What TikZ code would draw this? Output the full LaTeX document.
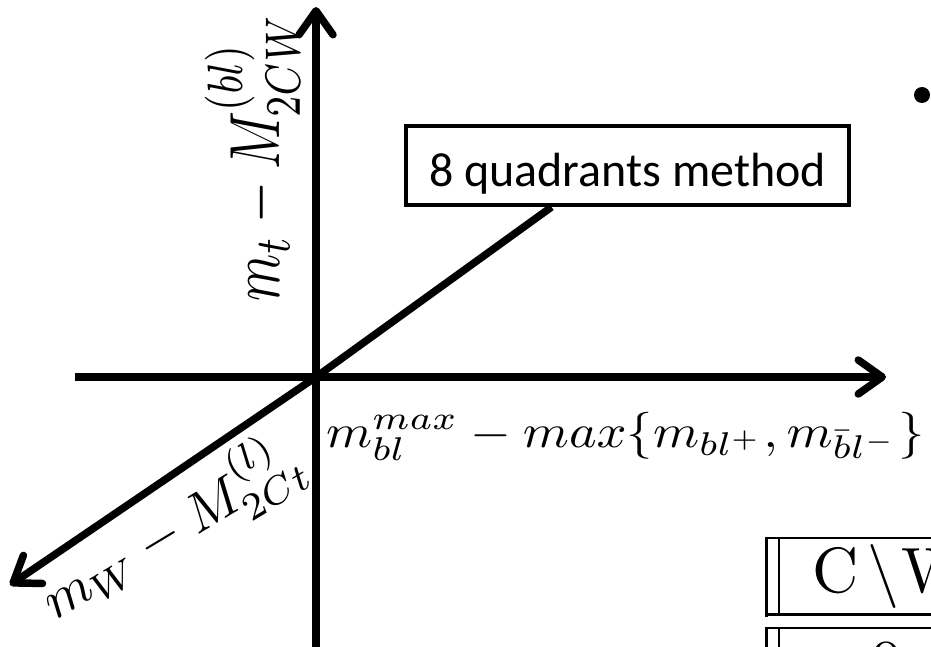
\documentclass[tikz,border=0pt]{standalone}
\usepackage{fontspec}
\usepackage{graphicx}
\newfontfamily\calibrifont{Carlito}
\usetikzlibrary{arrows.meta,calc}
\begin{document}
\begin{tikzpicture}[x=1pt,y=-1pt,
  axisline/.style={line width=7.5pt,
    -{Straight Barb[length=24pt,width=34pt,round]}},
  mathlabel/.style={inner sep=0pt,anchor=base west,font=\fontsize{10}{12}\selectfont},
  tblthick/.style={line width=3.2pt},
  tblthin/.style={line width=2.4pt}]
\useasboundingbox (0,0) rectangle (931,647);
\clip (0,0) rectangle (931,647);

% coordinates
\coordinate (o) at (316,377);
\coordinate (vbot) at (316,660);
\coordinate (vtop) at (316,7);
\coordinate (hleft) at (75,377);
\coordinate (hright) at (886,377);
\coordinate (dtip) at (10,585);

% axes
\draw[axisline] (vbot) -- (vtop);
\draw[axisline] (hleft) -- (hright);

% callout box
\node[draw,line width=4pt,minimum width=443pt,minimum height=79pt,inner sep=0pt,
      text height=50pt,text depth=7pt,
      font=\calibrifont\fontsize{48}{52}\selectfont] (box) at (627.5,165.5) {8 quadrants method};
\coordinate (boxfoot) at ($(box.south west)!0.33!(box.south east)$);
\draw[axisline,line join=round] (boxfoot) -- (o) -- (dtip);

% labels
\node[mathlabel,rotate=90] (vlab) at (279,302)
  {\scalebox{5.38}[7.1]{$m_t - M_{2CW}^{(bl)}$}};
\node[mathlabel] (hlab) at (326,447)
  {\scalebox{5.25}[4.7]{$m_{bl}^{max} - max\{m_{bl^+}, m_{\bar{b}l^-}\}$}};
\node[mathlabel,rotate=31] (dlab) at (55,621)
  {\scalebox{5.5}{$m_W - M_{2Ct}^{(l)}$}};

% bullet
\node[circle,fill,inner sep=0pt,minimum size=16pt] (bullet) at (922,95) {};

% table fragment
\draw[tblthick] (766.5,536.5) -- (766.5,616.5);
\draw[tblthin] (779,538) -- (779,615);
\draw[tblthin] (765,538) -- (931,538);
\draw[tblthick] (765,614.7) -- (931,614.7);
\draw[tblthin] (765,628) -- (931,628);
\draw[tblthick] (766.5,626.8) -- (766.5,650);
\draw[tblthin] (779,628) -- (779,650);
\node[mathlabel] (hdr) at (812,592)
  {\scalebox{6.4}{$\mathrm{C}\mkern2.5mu\backslash\mkern0.5mu\mathrm{W}$}};
\node[inner sep=0pt,anchor=base,font=\fontsize{10}{12}\selectfont] (cell) at (886,684) {\scalebox{6.4}{0}};
\end{tikzpicture}
\end{document}
